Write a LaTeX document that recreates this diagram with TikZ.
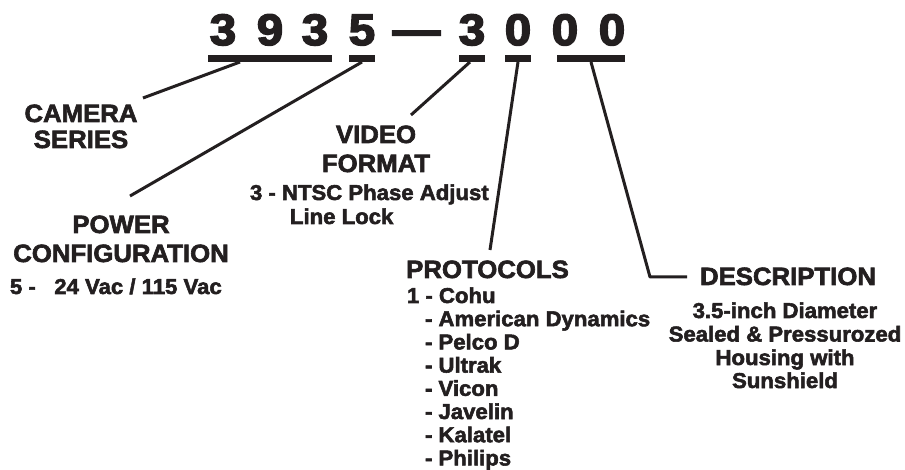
\documentclass[tikz,border=0pt]{standalone}
\usepackage{fontspec}
\setmainfont{Liberation Sans}
\newfontfamily\heavy{Liberation Sans Bold}[FakeBold=2.5,FakeStretch=1.03]
\newfontfamily\heavydig{Liberation Sans Bold}[FakeBold=3.5,FakeStretch=1.08]
\definecolor{ink}{RGB}{35,31,32}
\begin{document}
\begin{tikzpicture}[x=1pt,y=-1pt,
  every node/.style={text=ink, inner sep=0pt, outer sep=0pt},
  digit/.style={anchor=base, font=\heavydig\fontsize{44}{44}\selectfont},
  bar/.style={fill=ink, draw=none, minimum height=7pt},
  conn/.style={draw=ink, line width=3pt},
  head/.style={anchor=base, font=\heavy\fontsize{25}{25}\selectfont},
  small/.style={anchor=base west, font=\heavy\fontsize{21.5}{21.5}\selectfont},
  smallc/.style={anchor=base, font=\heavy\fontsize{21.5}{21.5}\selectfont}]
\useasboundingbox (0,0) rectangle (905,470);
\fill[white] (0,0) rectangle (905,470);
% part number
\node[digit] (d1) at (223,45) {3};
\node[digit] (d2) at (270,45) {9};
\node[digit] (d3) at (315,45) {3};
\node[digit] (d4) at (362,45) {5};
\node[digit] (dash) at (416.5,45) {—};
\node[digit] (d5) at (472,45) {3};
\node[digit] (d6) at (518,45) {0};
\node[digit] (d7) at (565,45) {0};
\node[digit] (d8) at (612,45) {0};
% underline bars
\node[bar, minimum width=124pt] (b1) at (270,58.5) {};
\node[bar, minimum width=26pt] (b2) at (362,58.5) {};
\node[bar, minimum width=26pt] (b3) at (472,58.5) {};
\node[bar, minimum width=26pt] (b4) at (518,58.5) {};
\node[bar, minimum width=68pt] (b5) at (591,58.5) {};
% connector ends
\coordinate (c1) at (143,98);
\coordinate (c2) at (130,196);
\coordinate (c3) at (411,115);
\coordinate (c4) at (490,250);
\coordinate (c5) at (650,277);
\coordinate (c5e) at (687,277);
\draw[conn] ([xshift=-30pt]b1.south) -- (c1);
\draw[conn] (b2.south) -- (c2);
\draw[conn] ([xshift=-2pt]b3.south) -- (c3);
\draw[conn] (b4.south) -- (c4);
\draw[conn, line join=round] (b5.south) -- (c5) -- (c5e);
% camera series
\node[head] (cam1) at (81,122) {CAMERA};
\node[head] (cam2) at (81,148) {SERIES};
% power
\node[head] (pw1) at (121,233) {POWER};
\node[head] (pw2) at (121,262) {CONFIGURATION};
\node[small] (pw3) at (10,294) {5 -\ \ \ 24 Vac / 115 Vac};
% video
\node[head] (vf1) at (376,143) {VIDEO};
\node[head] (vf2) at (376,172) {FORMAT};
\node[small] (vf3) at (250,200) {3 - NTSC Phase Adjust};
\node[small] (vf4) at (290,224) {Line Lock};
% protocols
\node[head] (pr0) at (487.5,278) {PROTOCOLS};
\node[small] (pr1) at (407,303) {1 - Cohu};
\node[small] (pr2) at (425,326.2) {- American Dynamics};
\node[small] (pr3) at (425,349.4) {- Pelco D};
\node[small] (pr4) at (425,372.6) {- Ultrak};
\node[small] (pr5) at (425,395.8) {- Vicon};
\node[small] (pr6) at (425,419) {- Javelin};
\node[small] (pr7) at (425,442.2) {- Kalatel};
\node[small] (pr8) at (425,465.4) {- Philips};
% description
\node[head] (ds0) at (788,285) {DESCRIPTION};
\node[smallc] (ds1) at (785,318) {3.5-inch Diameter};
\node[smallc] (ds2) at (785,341.5) {Sealed \& Pressurozed};
\node[smallc] (ds3) at (785,365) {Housing with};
\node[smallc] (ds4) at (785,388) {Sunshield};
\end{tikzpicture}
\end{document}
